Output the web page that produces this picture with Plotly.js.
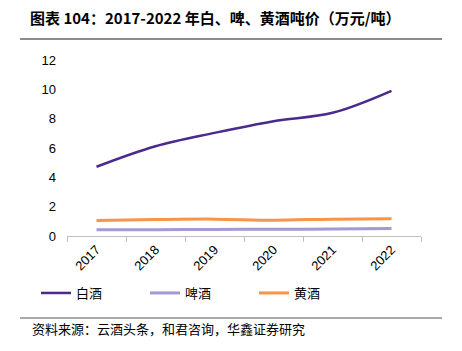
<!DOCTYPE html>
<html>
<head>
<meta charset="utf-8">
<script src="https://cdn.plot.ly/plotly-3.0.1.min.js"></script>
<style>html,body{margin:0;padding:0;background:#fff;}#chart{width:462px;height:351px;}</style>
</head>
<body>
<div id="chart"></div>
<script>
const years = ['2017', '2018', '2019', '2020', '2021', '2022'];
const baijiu = [4.72, 6.12, 7.03, 7.83, 8.40, 9.90];
const pijiu = [0.42, 0.43, 0.45, 0.46, 0.48, 0.51];
const huangjiu = [1.06, 1.12, 1.15, 1.08, 1.15, 1.17];
const seriesNames = ['白酒', '啤酒', '黄酒'];
const yTicks = [0, 2, 4, 6, 8, 10, 12];

const L = 67, R = 41, T = 60, B = 115;
const W = 462, H = 351;
const pw = W - L - R, ph = H - T - B;
const px = x => (x - L) / pw;
const py = y => (H - B - y) / ph;

const cjk = '"Noto Sans CJK SC", "Noto Sans", sans-serif';

const traces = [
  {x: years, y: baijiu, name: seriesNames[0], mode: 'lines', line: {color: '#4A2A8C', width: 2.5, shape: 'spline'}},
  {x: years, y: pijiu, name: seriesNames[1], mode: 'lines', line: {color: '#A698D4', width: 3, shape: 'spline'}},
  {x: years, y: huangjiu, name: seriesNames[2], mode: 'lines', line: {color: '#F7934A', width: 3, shape: 'spline'}}
];

const layout = {
  width: W, height: H,
  margin: {l: L, r: R, t: T, b: B},
  paper_bgcolor: '#fff', plot_bgcolor: '#fff',
  font: {family: 'Arial, "Liberation Sans", sans-serif', size: 13, color: '#000'},
  title: {
    text: '<b>图表 104：2017-2022 年白、啤、黄酒吨价（万元/吨）</b>',
    font: {family: cjk, size: 15, color: '#000'},
    x: 30 / W, xanchor: 'left', xref: 'container',
    y: 1 - 19 / H, yanchor: 'middle', yref: 'container'
  },
  xaxis: {
    type: 'category', range: [-0.5, 5.5],
    showline: true, linecolor: '#BFBFBF', linewidth: 1,
    ticks: 'outside', tickson: 'boundaries', ticklen: 5, tickcolor: '#BFBFBF',
    tickangle: -45, showgrid: false, zeroline: false,
    tickfont: {size: 13, color: '#000'}
  },
  yaxis: {
    range: [0, 12], tickvals: yTicks, showgrid: false, zeroline: false, showline: false,
    ticks: '', ticklabelstandoff: 10,
    tickfont: {size: 13, color: '#000'}
  },
  showlegend: true,
  legend: {
    orientation: 'h', x: px(36), xanchor: 'left', y: py(293), yanchor: 'middle',
    font: {family: cjk, size: 13, color: '#000'},
    itemwidth: 30, entrywidth: 64, entrywidthmode: 'pixels'
  },
  shapes: [
    {type: 'line', xref: 'paper', yref: 'paper', x0: px(20), x1: px(442), y0: py(39), y1: py(39), line: {color: '#8C8C8C', width: 2}},
    {type: 'line', xref: 'paper', yref: 'paper', x0: px(20), x1: px(442), y0: py(318), y1: py(318), line: {color: '#555', width: 1.2}}
  ],
  annotations: [
    {text: '资料来源：云酒头条，和君咨询，华鑫证券研究', xref: 'paper', yref: 'paper', x: px(30), y: py(328),
     xanchor: 'left', yanchor: 'middle', showarrow: false, font: {family: cjk, size: 13, color: '#000'}}
  ]
};

Plotly.newPlot('chart', traces, layout, {displayModeBar: false, staticPlot: true});
</script>
</body>
</html>
